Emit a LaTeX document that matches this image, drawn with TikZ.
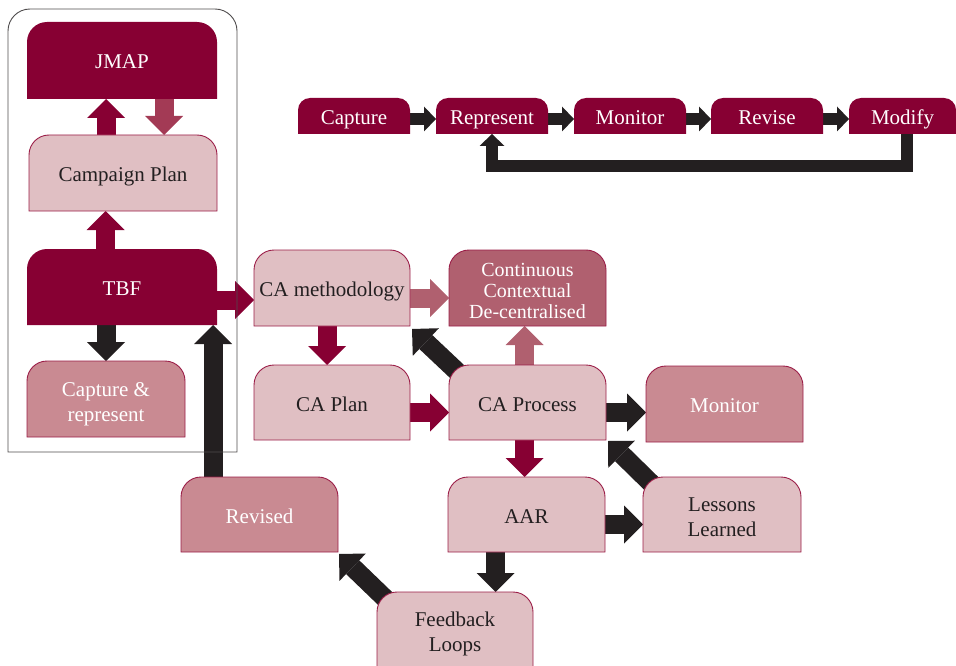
\documentclass[tikz,border=0pt]{standalone}
\usepackage{fontspec}
\setmainfont{Liberation Serif}
\usetikzlibrary{arrows.meta}
\pgfdeclarelayer{arrowlayer}
\pgfdeclarelayer{boxlayer}
\pgfsetlayers{arrowlayer,boxlayer,main}
\definecolor{maroon}{HTML}{870033}
\definecolor{rose}{HTML}{C98A92}
\definecolor{blush}{HTML}{E0BFC3}
\definecolor{mauve}{HTML}{B0606F}
\definecolor{wine}{HTML}{A33A55}
\definecolor{ink}{HTML}{231F20}
\definecolor{edgec}{HTML}{9B1E48}
\newcommand\tbox[3][20]{\path[#3] (#2.south west) [rounded corners=#1pt] -- (#2.north west) -- (#2.north east) [sharp corners] -- (#2.south east) -- cycle;}
\newcommand\lift[1]{\rule{0pt}{#1}}
\tikzset{
  lbl/.style={inner sep=0pt, outer sep=0pt, align=center, font=\fontsize{21}{25}\selectfont, text=ink},
  bx/.style={lbl, minimum width=157pt, minimum height=75pt},
  one/.style={text height=19pt, text depth=2pt},
  wt/.style={text=white},
  topbx/.style={lbl, text=white, minimum width=112pt, minimum height=36pt, text height=20pt, text depth=2pt},
  lightbox/.style={fill=blush, draw=edgec, line width=0.9pt},
  midbox/.style={fill=rose, draw=edgec, line width=0.9pt},
  mauvebox/.style={fill=mauve, draw=edgec, line width=0.9pt},
  darkbox/.style={fill=maroon},
  framebox/.style={draw=ink!80, line width=0.9pt},
  arr/.style={line width=19pt, -{Triangle[width=38pt,length=19pt,line width=0pt]}},
  sarr/.style={line width=12pt, line join=miter, -{Triangle[width=25pt,length=12pt,line width=0pt]}},
}
\begin{document}
\begin{tikzpicture}[x=1pt,y=-1pt]
\useasboundingbox (0,0) rectangle (956,666);
% nodes
\node[inner sep=0pt, outer sep=0pt, minimum width=229pt, minimum height=443pt] (frame) at (122.5,230.5) {};
\node[bx, one, wt, minimum width=190pt, minimum height=77pt] (jmap) at (122,60.5) {JMAP};
\node[bx, one, minimum width=188pt, minimum height=76pt] (camp) at (123,173) {Campaign Plan};
\node[bx, one, wt, minimum width=190pt, minimum height=76pt] (tbf) at (122,287) {TBF};
\node[bx, wt, minimum width=158pt, minimum height=76pt] (capr) at (106,399) {\lift{24.3pt}Capture \&\\represent};
\node[bx, one, minimum width=156pt, minimum height=76pt] (camet) at (332,288) {CA methodology};
\node[bx, wt, minimum height=76pt, font=\fontsize{20}{21}\selectfont] (cont) at (527.5,288) {\lift{19.5pt}Continuous\\Contextual\\De-centralised};
\node[bx, one, minimum width=156pt] (caplan) at (332,402.5) {CA Plan};
\node[bx, one] (caproc) at (527.5,402.5) {CA Process};
\node[bx, one, wt, minimum height=76pt] (mon) at (724.5,404) {Monitor};
\node[bx, one] (aar) at (526.5,514.5) {AAR};
\node[bx, minimum width=158pt] (lessons) at (722,514.5) {\lift{20pt}Lessons\\Learned};
\node[bx, one, wt] (revised) at (259.5,514.5) {Revised};
\node[bx, minimum width=156pt, minimum height=74pt] (feedback) at (455,629) {\lift{24.3pt}Feedback\\Loops};
\node[topbx] (capture) at (354,116) {Capture};
\node[topbx] (represent) at (492,116) {Represent};
\node[topbx] (monitortop) at (630,116) {Monitor};
\node[topbx] (revise) at (767,116) {Revise};
\node[topbx, minimum width=107pt] (modify) at (902.5,116) {Modify};
% boxes
\begin{pgfonlayer}{boxlayer}
\tbox[22]{frame}{framebox}
\tbox{jmap}{darkbox}
\tbox{camp}{lightbox}
\tbox{tbf}{darkbox}
\tbox{capr}{midbox}
\tbox{camet}{lightbox}
\tbox{cont}{mauvebox}
\tbox{caplan}{lightbox}
\tbox{caproc}{lightbox}
\tbox{mon}{midbox}
\tbox{aar}{lightbox}
\tbox{lessons}{lightbox}
\tbox{revised}{midbox}
\tbox{feedback}{fill=blush}
\path[draw=edgec, line width=0.9pt] (feedback.south west) [rounded corners=20pt] -- (feedback.north west) -- (feedback.north east) [sharp corners] -- (feedback.south east);
\tbox[12]{capture}{darkbox}
\tbox[12]{represent}{darkbox}
\tbox[12]{monitortop}{darkbox}
\tbox[12]{revise}{darkbox}
\tbox[12]{modify}{darkbox}
\end{pgfonlayer}
% arrows
\begin{pgfonlayer}{arrowlayer}
\draw[arr,maroon] ([xshift=-17pt]camp.north) -- ([xshift=-17pt]camp.north |- jmap.south);
\draw[arr,wine] ([xshift=42pt]jmap.south) -- ([xshift=42pt]jmap.south |- camp.north);
\draw[arr,maroon] ([xshift=-16.5pt]tbf.north) -- ([xshift=-16.5pt]tbf.north |- camp.south);
\draw[arr,ink] (tbf.south -| capr.north) -- (capr.north);
\draw[arr,maroon] ([yshift=-13pt]tbf.east) -- ([yshift=-13pt]tbf.east -| camet.west);
\draw[arr,ink] ([xshift=-46.5pt]revised.north) -- ([xshift=-46.5pt]revised.north |- tbf.south);
\draw[arr,mauve] ([yshift=-10pt]camet.east) -- ([yshift=-10pt]camet.east -| cont.west);
\draw[arr,maroon] ([xshift=-5pt]camet.south) -- ([xshift=-5pt]camet.south |- caplan.north);
\draw[arr,maroon] ([yshift=-10pt]caplan.east) -- ([yshift=-10pt]caplan.east -| caproc.west);
\draw[arr,mauve] ([xshift=-3pt]caproc.north) -- ([xshift=-3pt]caproc.north |- cont.south);
\draw[arr,ink] ([yshift=-10pt]caproc.east) -- ([yshift=-10pt]caproc.east -| mon.west);
\draw[arr,maroon] ([xshift=-3pt]caproc.south) -- ([xshift=-3pt]caproc.south |- aar.north);
\draw[arr,ink] ([yshift=-10pt]aar.east) -- ([yshift=-10pt]aar.east -| lessons.west);
\draw[arr,ink] ([xshift=-31pt]aar.south) -- ([xshift=-31pt]aar.south |- feedback.north);
\draw[arr,ink] ([shift={(16,14)}]caproc.north west) -- ([shift={(2,3)}]camet.south east);
\draw[arr,ink] ([shift={(16,14)}]lessons.north west) -- ([shift={(2,1)}]caproc.south east);
\draw[arr,ink] ([shift={(18,16)}]feedback.north west) -- ([shift={(1,2)}]revised.south east);
\draw[sarr,ink] ([yshift=-3pt]capture.east) -- ([yshift=-3pt]capture.east -| represent.west);
\draw[sarr,ink] ([yshift=-3pt]represent.east) -- ([yshift=-3pt]represent.east -| monitortop.west);
\draw[sarr,ink] ([yshift=-3pt]monitortop.east) -- ([yshift=-3pt]monitortop.east -| revise.west);
\draw[sarr,ink] ([yshift=-3pt]revise.east) -- ([yshift=-3pt]revise.east -| modify.west);
\draw[sarr,ink] ([xshift=4pt]modify.south) -- ++(0,32) -| (represent.south);
\end{pgfonlayer}
\end{tikzpicture}
\end{document}
